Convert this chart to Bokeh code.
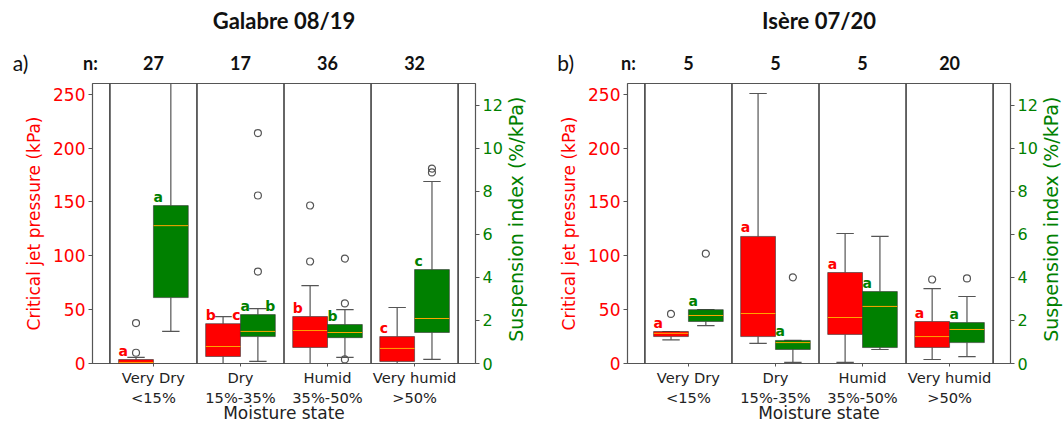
import math
import numpy as np
from bokeh.plotting import figure
from bokeh.models import Range1d, LinearAxis, FixedTicker, Span
from bokeh.layouts import row
from bokeh.embed import file_html
from bokeh.resources import INLINE
from bokeh.core.properties import value

categories = ["Very Dry\n<15%", "Dry\n15%-35%", "Humid\n35%-50%", "Very humid\n>50%"]
left_ticks = [0, 50, 100, 150, 200, 250]
right_ticks = [0, 2, 4, 6, 8, 10, 12]

# ---- Galabre 08/19 ----
gal_n = [27, 17, 36, 32]
gal_cjp_whislo = [0, 0, 0, 0]
gal_cjp_q1 = [0, 6.5, 14.9, 1.9]
gal_cjp_med = [1, 15.8, 30.6, 14]
gal_cjp_q3 = [3.7, 37, 43.6, 25]
gal_cjp_whishi = [5.6, 43.6, 72.4, 52]
gal_cjp_fliers = [[10, 37.5], [], [94.7, 146.7], []]
gal_cjp_letters = ["a", "bc", "b", "c"]
gal_si_whislo = [1.49, 0.1, 0.28, 0.19]
gal_si_q1 = [3.06, 1.25, 1.2, 1.44]
gal_si_med = [6.4, 1.49, 1.44, 2.09]
gal_si_q3 = [7.33, 2.27, 1.81, 4.36]
gal_si_whishi = [14, 2.55, 2.5, 8.45]
gal_si_fliers = [[], [4.27, 7.8, 10.7], [0.19, 2.79, 4.87], [8.87, 9.05]]
gal_si_letters = ["a", "ab", "b", "c"]

# ---- Isère 07/20 ----
ise_n = [5, 5, 5, 20]
ise_cjp_whislo = [22, 18.6, 1, 3.7]
ise_cjp_q1 = [25, 25, 27, 14.9]
ise_cjp_med = [28, 46.4, 42.7, 25]
ise_cjp_q3 = [29.7, 118, 84.5, 39]
ise_cjp_whishi = [29.7, 250.7, 120.7, 69.6]
ise_cjp_fliers = [[46], [], [], [78]]
ise_cjp_letters = ["a", "a", "a", "a"]
ise_si_whislo = [1.76, 0.05, 0.65, 0.32]
ise_si_q1 = [1.95, 0.65, 0.74, 0.97]
ise_si_med = [2.23, 0.97, 2.65, 1.58]
ise_si_q3 = [2.5, 1.07, 3.34, 1.9]
ise_si_whishi = [2.5, 1.07, 5.9, 3.11]
ise_si_fliers = [[5.1], [4.0], [], [3.95]]
ise_si_letters = ["a", "a", "a", "a"]

RED = "#ff0000"
GREEN = "#008000"
WHISK = "#555555"
FONT = "DejaVu Sans"
HFONT = "Lato"


def draw_boxes(p, xs, lo, q1, med, q3, hi, fliers, letters, color, side, rname):
    kw = {} if rname is None else {"y_range_name": rname}
    bw = 0.4
    left = [x - bw if side < 0 else x for x in xs]
    right = [x if side < 0 else x + bw for x in xs]
    cx = [x + side * bw / 2 for x in xs]
    p.segment(x0=cx, y0=q3, x1=cx, y1=hi, line_color=WHISK, line_width=1.2, **kw)
    p.segment(x0=cx, y0=lo, x1=cx, y1=q1, line_color=WHISK, line_width=1.2, **kw)
    p.segment(x0=[c - 0.1 for c in cx], y0=hi, x1=[c + 0.1 for c in cx], y1=hi, line_color=WHISK, line_width=1.2, **kw)
    p.segment(x0=[c - 0.1 for c in cx], y0=lo, x1=[c + 0.1 for c in cx], y1=lo, line_color=WHISK, line_width=1.2, **kw)
    p.quad(left=left, right=right, bottom=q1, top=q3, fill_color=color, line_color="#333333", line_alpha=0.6, line_width=1, **kw)
    p.segment(x0=left, y0=med, x1=right, y1=med, line_color="orange", line_width=1, **kw)
    fx, fy = [], []
    for c, fl in zip(cx, fliers):
        for v in fl:
            fx.append(c)
            fy.append(v)
    p.scatter(x=fx, y=fy, marker="circle", size=7, fill_color=None, line_color=WHISK, line_width=1.2, **kw)
    lx, ly, lt, rx, ry, rt = [], [], [], [], [], []
    for l, r, top, s in zip(left, right, q3, letters):
        lx.append(l)
        ly.append(top)
        lt.append(s[0])
        if len(s) > 1:
            rx.append(r)
            ry.append(top)
            rt.append(s[1])
    p.text(x=lx, y=ly, text=lt, text_color=color, text_font=value(FONT), text_font_style="bold",
           text_font_size="14px", text_align="left", text_baseline="bottom", y_offset=-1, **kw)
    if rx:
        p.text(x=rx, y=ry, text=rt, text_color=color, text_font=value(FONT), text_font_style="bold",
               text_font_size="14px", text_align="right", text_baseline="bottom", y_offset=-1, **kw)


def style_axis(ax, color, size):
    ax.axis_label_text_color = color
    ax.axis_label_text_font = FONT
    ax.axis_label_text_font_style = "normal"
    ax.axis_label_text_font_size = "17px"
    ax.major_label_text_color = color
    ax.major_label_text_font = FONT
    ax.major_label_text_font_size = size
    ax.major_tick_in = 0
    ax.minor_tick_line_color = None
    ax.axis_line_color = None
    ax.major_tick_line_color = "#555555"


def make_panel(title, tag, n, cjp, si, border_left, border_right, tag_x, n_x):
    xs = list(range(1, len(categories) + 1))
    p = figure(width=532, height=425, x_range=Range1d(0.3, 4.7), y_range=Range1d(0, 260),
               output_backend="svg", toolbar_location=None,
               min_border_left=border_left, min_border_right=border_right,
               min_border_top=83, min_border_bottom=62)
    p.extra_y_ranges = {"si": Range1d(0, 13)}
    p.xgrid.visible = False
    p.ygrid.visible = False
    p.outline_line_color = "#555555"
    p.outline_line_width = 1.2
    p.background_fill_color = "white"
    p.border_fill_color = "white"

    xa = p.xaxis[0]
    style_axis(xa, "#222222", "11pt")
    xa.ticker = FixedTicker(ticks=xs)
    xa.major_label_overrides = {x: c for x, c in zip(xs, categories)}
    xa.major_label_standoff = 2
    xa.major_tick_out = 3

    ya = p.yaxis[0]
    style_axis(ya, RED, "17px")
    ya.ticker = FixedTicker(ticks=left_ticks)
    ya.axis_label = "Critical jet pressure (kPa)"
    ya.axis_label_standoff = 6
    ya.major_label_standoff = 3
    ya.major_tick_out = 4

    ra = LinearAxis(y_range_name="si", ticker=FixedTicker(ticks=right_ticks))
    style_axis(ra, GREEN, "16px")
    ra.major_label_standoff = 3
    ra.major_tick_out = 4
    p.add_layout(ra, "right")

    for k in range(len(categories) + 1):
        p.add_layout(Span(location=k + 0.5, dimension="height", line_color="#333333", line_width=1.5))

    draw_boxes(p, xs, *cjp, RED, -1, None)
    draw_boxes(p, xs, *si, GREEN, 1, "si")

    # x-axis title (drawn below the frame)
    p.text(x=[2.5], y=[-45.5], text=["Moisture state"], text_align="center", text_baseline="middle",
           text_font=value(FONT), text_font_size="17px", text_color="#222222", level="overlay")

    # right axis title, reading bottom-to-top (drawn outside the frame)
    p.text(x=[5.16], y=[6.7], text=["Suspension index (%/kPa)"], angle=math.pi / 2,
           text_align="center", text_baseline="middle", text_font=value(FONT), text_font_size="19px",
           text_color=GREEN, y_range_name="si", level="overlay")

    # header texts (drawn above the frame)
    p.text(x=xs + [n_x], y=[279.5] * (len(xs) + 1), text=[str(v) for v in n] + ["n:"],
           text_align="center", text_baseline="middle", text_font=value(HFONT), text_font_style="bold",
           text_font_size="18px", text_color="#111111", level="overlay")
    p.text(x=[tag_x], y=[279.5], text=[tag], text_align="center", text_baseline="middle",
           text_font=value(HFONT), text_font_size="21px", text_color="#111111", level="overlay")
    p.text(x=[2.5], y=[318.5], text=[title], text_align="center", text_baseline="middle",
           text_font=value(HFONT), text_font_style="bold", text_font_size="22px", text_color="#111111",
           level="overlay")
    return p


p1 = make_panel("Galabre 08/19", "a)", gal_n,
                (gal_cjp_whislo, gal_cjp_q1, gal_cjp_med, gal_cjp_q3, gal_cjp_whishi, gal_cjp_fliers, gal_cjp_letters),
                (gal_si_whislo, gal_si_q1, gal_si_med, gal_si_q3, gal_si_whishi, gal_si_fliers, gal_si_letters),
                92, 57, -0.527, 0.277)
p2 = make_panel("Isère 07/20", "b)", ise_n,
                (ise_cjp_whislo, ise_cjp_q1, ise_cjp_med, ise_cjp_q3, ise_cjp_whishi, ise_cjp_fliers, ise_cjp_letters),
                (ise_si_whislo, ise_si_q1, ise_si_med, ise_si_q3, ise_si_whishi, ise_si_fliers, ise_si_letters),
                95, 54, -0.41, 0.31)

layout = row(p1, p2)
open("out.html", "w").write(file_html(layout, INLINE))
